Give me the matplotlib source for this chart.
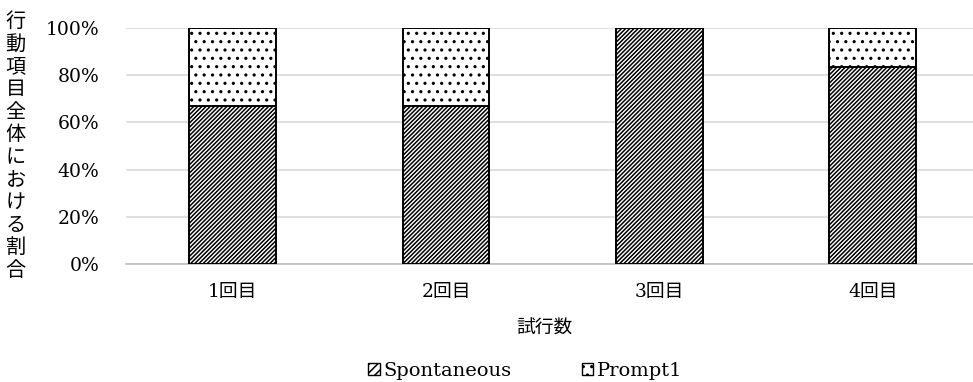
import numpy as np
import matplotlib
matplotlib.use("Agg")
import matplotlib.pyplot as plt
from matplotlib.patches import Patch

plt.rcParams['font.family'] = ['DejaVu Serif', 'Noto Sans CJK JP']
plt.rcParams['hatch.linewidth'] = 1.1

trials = ["1回目", "2回目", "3回目", "4回目"]
spontaneous = [66.7, 66.7, 100.0, 83.3]
prompt1 = [33.3, 33.3, 0.0, 16.7]
yticks = [0, 20, 40, 60, 80, 100]
ylabel = "行動項目全体における割合"
xlabel = "試行数"

fig = plt.figure(figsize=(9.73, 3.82), dpi=100)
ax = fig.add_axes([0.1295, 0.309, 0.877, 0.618])

x = np.arange(len(trials))
w = 0.405
ax.bar(x, spontaneous, w, color='white', edgecolor='black', hatch='////////',
       linewidth=1.4, label='Spontaneous', zorder=3)
ax.bar(x, prompt1, w, bottom=spontaneous, color='white', edgecolor='black',
       hatch='..', linewidth=1.4, label='Prompt1', zorder=3)

ax.set_xlim(-0.5, len(trials) - 0.5)
ax.set_ylim(0, 100)
ax.set_yticks(yticks)
ax.set_yticklabels([f"{v}%" for v in yticks])
ax.set_xticks(x)
ax.set_xticklabels(trials)
ax.tick_params(axis='both', length=0, labelsize=13.5)
ax.tick_params(axis='y', pad=19)
ax.tick_params(axis='x', pad=14)
ax.yaxis.grid(True, color='#d9d9d9', linewidth=1.2, zorder=0)
for s in ['top', 'right', 'left']:
    ax.spines[s].set_visible(False)
ax.spines['bottom'].set_color('#bfbfbf')
ax.spines['bottom'].set_linewidth(1.2)

fig.text(0.016, 0.968, "\n".join(ylabel), ha='center', va='top',
         fontsize=14.5, linespacing=1.24)
fig.text(0.56, 0.14, xlabel, ha='center', va='center', fontsize=13.5)

handles = [Patch(facecolor='white', edgecolor='black', hatch='////', label='Spontaneous'),
           Patch(facecolor='white', edgecolor='black', hatch='..', label='Prompt1')]
fig.legend(handles=handles, loc='center', bbox_to_anchor=(0.54, 0.03), ncol=2,
           frameon=False, fontsize=14, handlelength=0.6, handleheight=0.6,
           handletextpad=0.2, columnspacing=3.6)

fig.savefig("out.png", dpi=100)
